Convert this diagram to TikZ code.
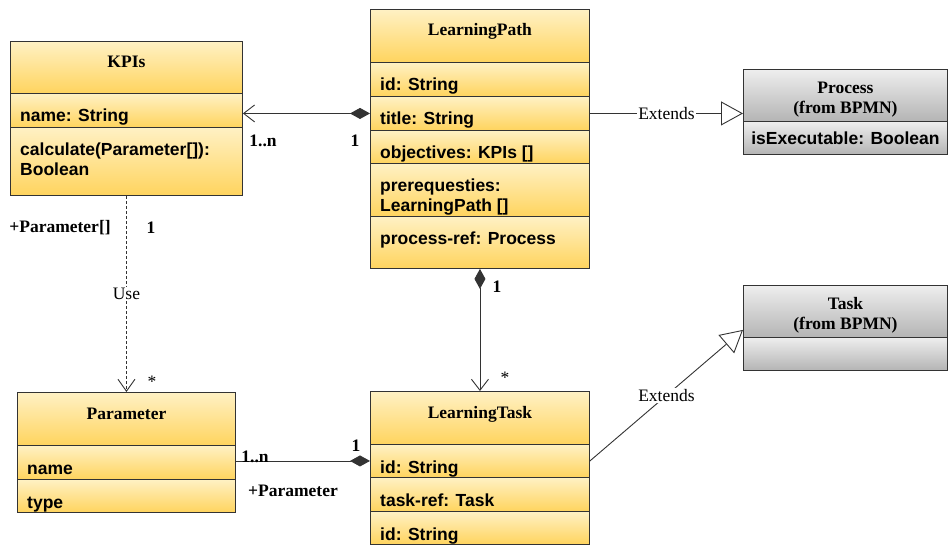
\documentclass[tikz,border=0pt]{standalone}
\usepackage{fontspec}
\setmainfont{Liberation Serif}
\setsansfont{Liberation Sans}
\usetikzlibrary{arrows.meta,positioning,calc}

\definecolor{ylTop}{HTML}{FFF1C4}
\definecolor{ylBot}{HTML}{FFD45E}
\definecolor{grTop}{HTML}{EEEEEE}
\definecolor{grBot}{HTML}{B4B4B4}
\definecolor{edge}{HTML}{333333}

\begin{document}
\begin{tikzpicture}[x=1pt, y=-1pt,
            comp/.style 2 args={draw=edge, line width=0.9pt, rectangle, inner sep=0pt,
                anchor=north west, minimum width=#1, minimum height=#2},
            ycomp/.style 2 args={comp={#1}{#2}, top color=ylTop, bottom color=ylBot},
            gcomp/.style 2 args={comp={#1}{#2}, top color=grTop, bottom color=grBot},
            cname/.style={font=\fontsize{17.5}{20}\selectfont\bfseries, anchor=base, inner sep=0pt},
            gname/.style={font=\fontsize{17.5}{20}\selectfont\bfseries, align=center, inner sep=0pt},
            attr/.style={font=\sffamily\fontsize{17.5}{20}\selectfont\bfseries, anchor=base west,
                align=left, inner sep=0pt},
            mult/.style={font=\fontsize{17.5}{20}\selectfont\bfseries, inner sep=1pt},
            lbl/.style={font=\fontsize{17.5}{20}\selectfont, fill=white, inner sep=1pt},
            rel/.style={draw=edge, line width=0.9pt},
            owns/.style={rel, {Diamond[length=20pt, width=11pt]}-{Straight Barb[length=11pt, width=17pt]}},
            part/.style={rel, {Diamond[length=20pt, width=11pt]}-},
            uses/.style={rel, dash pattern=on 3pt off 2pt, -{Straight Barb[length=12pt, width=17pt]}},
            extends/.style={rel, -{Triangle[open, length=22pt, width=24pt, fill=white]}}]
        \useasboundingbox (0,0) rectangle (950,545);

        % KPIs
        \node[ycomp={232pt}{52pt}] (kpiH) at (10,41) {};
        \node[ycomp={232pt}{34pt}] (kpiA) at (10,93) {};
        \node[ycomp={232pt}{68pt}] (kpiM) at (10,127) {};
        \node[cname] (kpiN) at ([yshift=-27pt]kpiH.north) {KPIs};
        \node[attr] (kpiA1) at ([xshift=10pt, yshift=-29pt]kpiA.north west) {name: String};
        \node[attr] (kpiM1) at ([xshift=10pt, yshift=-49pt]kpiM.north west) {calculate(Parameter[]):\\Boolean};

        % LearningPath
        \node[ycomp={219pt}{53pt}] (lpH) at (370,9) {};
        \node[ycomp={219pt}{34pt}] (lpI) at (370,62) {};
        \node[ycomp={219pt}{34pt}] (lpT) at (370,96) {};
        \node[ycomp={219pt}{33pt}] (lpO) at (370,130) {};
        \node[ycomp={219pt}{53pt}] (lpR) at (370,163) {};
        \node[ycomp={219pt}{52pt}] (lpP) at (370,216) {};
        \node[cname] (lpN) at ([yshift=-27pt]lpH.north) {LearningPath};
        \node[attr] (lpI1) at ([xshift=10pt, yshift=-29pt]lpI.north west) {id: String};
        \node[attr] (lpT1) at ([xshift=10pt, yshift=-29pt]lpT.north west) {title: String};
        \node[attr] (lpO1) at ([xshift=10pt, yshift=-29pt]lpO.north west) {objectives: KPIs []};
        \node[attr] (lpR1) at ([xshift=10pt, yshift=-49pt]lpR.north west) {prerequesties:\\LearningPath []};
        \node[attr] (lpP1) at ([xshift=10pt, yshift=-29pt]lpP.north west) {process-ref: Process};

        % Process (from BPMN)
        \node[gcomp={204pt}{52pt}] (procH) at (743,69) {};
        \node[gcomp={204pt}{33pt}] (procA) at (743,121) {};
        \node[gname] (procN) at ([yshift=-4pt]procH.center) {Process\\(from BPMN)};
        \node[attr, anchor=center] (procA1) at (procA.center) {isExecutable: Boolean};

        % Task (from BPMN)
        \node[gcomp={204pt}{52pt}] (taskH) at (743,285) {};
        \node[gcomp={204pt}{33pt}] (taskA) at (743,337) {};
        \node[gname] (taskN) at ([yshift=-4pt]taskH.center) {Task\\(from BPMN)};

        % Parameter
        \node[ycomp={218pt}{53pt}] (parH) at (17,392) {};
        \node[ycomp={218pt}{34pt}] (parN) at (17,445) {};
        \node[ycomp={218pt}{33pt}] (parT) at (17,479) {};
        \node[cname] (parN0) at ([yshift=-27pt]parH.north) {Parameter};
        \node[attr] (parN1) at ([xshift=10pt, yshift=-29pt]parN.north west) {name};
        \node[attr] (parT1) at ([xshift=10pt, yshift=-29pt]parT.north west) {type};

        % LearningTask
        \node[ycomp={219pt}{53pt}] (ltH) at (370,391) {};
        \node[ycomp={219pt}{33pt}] (ltI) at (370,444) {};
        \node[ycomp={219pt}{34pt}] (ltR) at (370,477) {};
        \node[ycomp={219pt}{33pt}] (ltJ) at (370,511) {};
        \node[cname] (ltN) at ([yshift=-27pt]ltH.north) {LearningTask};
        \node[attr] (ltI1) at ([xshift=10pt, yshift=-29pt]ltI.north west) {id: String};
        \node[attr] (ltR1) at ([xshift=10pt, yshift=-29pt]ltR.north west) {task-ref: Task};
        \node[attr] (ltJ1) at ([xshift=10pt, yshift=-29pt]ltJ.north west) {id: String};

        \coordinate (taskTip) at ([yshift=8pt]taskH.south west);

        % connectors
        \draw[owns] (lpT.west) -- (lpT.west -| kpiA.east);
        \draw[extends] (lpT.east) -- (lpT.east -| procH.west) node[lbl, midway] (ext1) {Extends};
        \draw[uses] (kpiM.south) -- (parH.north) node[lbl, midway] (use) {Use};
        \draw[owns] (lpP.south) -- (ltH.north);
        \draw[part] (ltI.west) -- (ltI.west -| parN.east);
        \draw[extends] (ltI.east) -- (taskTip) node[lbl, midway] (ext2) {Extends};

        % multiplicities
        \node[mult] (m1) at (263,141) {1..n};
        \node[mult] (m2) at (355,141) {1};
        \node[mult] (m3) at (60,228) {+Parameter[]};
        \node[mult] (m4) at (151,228) {1};
        \node[lbl, fill=none] (m5) at (152,382) {*};
        \node[mult] (m6) at (497,287) {1};
        \node[lbl, fill=none] (m7) at (505,378) {*};
        \node[mult] (m8) at (255,457) {1..n};
        \node[mult] (m9) at (356,446) {1};
        \node[mult] (m10) at (293,491) {+Parameter};
\end{tikzpicture}
\end{document}
